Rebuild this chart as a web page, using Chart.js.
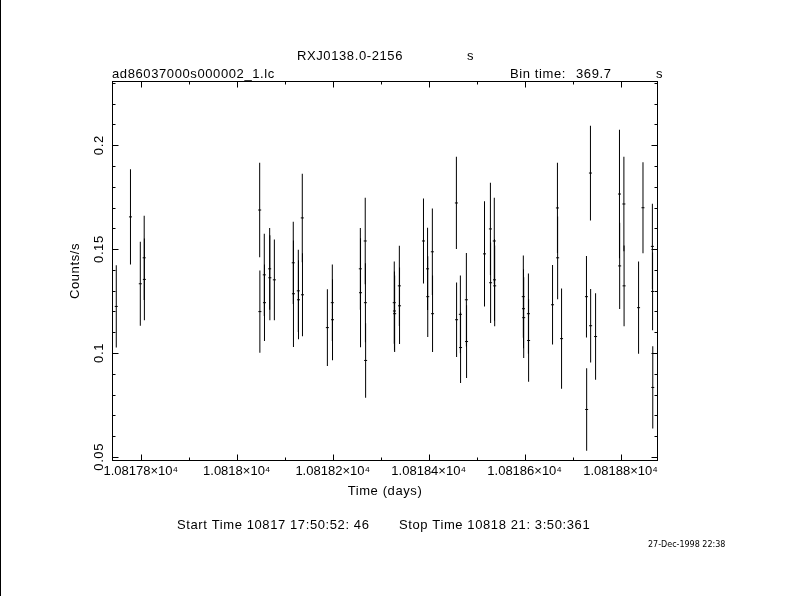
<!DOCTYPE html>
<html>
<head>
<meta charset="utf-8">
<script src="https://cdn.jsdelivr.net/npm/chart.js@4/dist/chart.umd.min.js"></script>
<style>
  html, body { margin: 0; padding: 0; background: #fff; }
  canvas { display: block; }
</style>
</head>
<body>
<canvas id="myChart" width="790" height="596"></canvas>
<script>
// light curve bins (days, counts/s, 1 sigma)
const timeDays = [
  10817.7489, 10817.7785, 10817.7990, 10817.8071, 10817.8075,
  10818.0478, 10818.0482, 10818.0574, 10818.0578, 10818.0686, 10818.0690, 10818.0784,
  10818.1178, 10818.1182, 10818.1283, 10818.1287, 10818.1366, 10818.1370,
  10818.1889, 10818.1992, 10818.1996,
  10818.2576, 10818.2580, 10818.2678, 10818.2682, 10818.2686,
  10818.3283, 10818.3287, 10818.3291, 10818.3389, 10818.3393,
  10818.3892, 10818.3977, 10818.3981, 10818.4077, 10818.4081,
  10818.4578, 10818.4582, 10818.4661, 10818.4665, 10818.4786, 10818.4790,
  10818.5164, 10818.5287, 10818.5291, 10818.5368, 10818.5372, 10818.5376,
  10818.5973, 10818.5977, 10818.5981, 10818.6079, 10818.6083,
  10818.6582, 10818.6684, 10818.6688, 10818.6770,
  10818.7289, 10818.7293, 10818.7372, 10818.7376, 10818.7479,
  10818.7977, 10818.7981, 10818.8069, 10818.8073,
  10818.8375, 10818.8467, 10818.8663, 10818.8667, 10818.8671
];
const rate = [
  0.1224, 0.1655, 0.1333, 0.1458, 0.1354,
  0.1688, 0.1199, 0.1376, 0.1242, 0.1405, 0.1362, 0.1352,
  0.1434, 0.1285, 0.1299, 0.1256, 0.1650, 0.1280,
  0.1122, 0.1242, 0.1160,
  0.1405, 0.1290, 0.1539, 0.1242, 0.0964,
  0.1242, 0.1202, 0.1189, 0.1323, 0.1227,
  0.1539, 0.1405, 0.1271, 0.1487, 0.1189,
  0.1722, 0.1160, 0.1186, 0.1026, 0.1256, 0.1055,
  0.1477, 0.1597, 0.1338, 0.1539, 0.1352, 0.1323,
  0.1271, 0.1213, 0.1170, 0.1189, 0.1060,
  0.1232, 0.1698, 0.1458, 0.1069,
  0.1271, 0.0728, 0.1866, 0.1131, 0.1079,
  0.1765, 0.1419, 0.1717, 0.1323,
  0.1218, 0.1699, 0.1513, 0.1296, 0.0834
];
const rateErr = [
  0.0198, 0.0229, 0.0202, 0.0203, 0.0197,
  0.0227, 0.0198, 0.0198, 0.0184, 0.0197, 0.0205, 0.0194,
  0.0198, 0.0256, 0.0198, 0.0190, 0.0213, 0.0200,
  0.0185, 0.0184, 0.0195,
  0.0197, 0.0262, 0.0208, 0.0190, 0.0179,
  0.0198, 0.0190, 0.0184, 0.0193, 0.0184,
  0.0205, 0.0198, 0.0194, 0.0208, 0.0184,
  0.0222, 0.0179, 0.0187, 0.0170, 0.0225, 0.0175,
  0.0253, 0.0222, 0.0194, 0.0208, 0.0197, 0.0194,
  0.0198, 0.0190, 0.0194, 0.0193, 0.0199,
  0.0191, 0.0217, 0.0199, 0.0241,
  0.0196, 0.0199, 0.0228, 0.0177, 0.0208,
  0.0309, 0.0208, 0.0227, 0.0194,
  0.0222, 0.0219, 0.0205, 0.0187, 0.0198
];

const xTickValues = [10817.8, 10818.0, 10818.2, 10818.4, 10818.6, 10818.8];
const xTickLabels = ["1.08178×10⁴", "1.0818×10⁴", "1.08182×10⁴", "1.08184×10⁴", "1.08186×10⁴", "1.08188×10⁴"];
const yTickValues = [0.05, 0.1, 0.15, 0.2];
const yTickLabels = ["0.05", "0.1", "0.15", "0.2"];
const xRange = [10817.74, 10818.878];
const yRange = [0.048, 0.2309];

const FONT = '13px "Liberation Sans", Arial, sans-serif';

const errBars = timeDays.map((t, i) => ({ x: t, y: [rate[i] - rateErr[i], rate[i] + rateErr[i]] }));
const points = timeDays.map((t, i) => ({ x: t, y: rate[i] }));

function txt(ctx, s, x, y, align) {
  ctx.textAlign = align || "left";
  ctx.fillText(s, x, y);
}

// frame, inward ticks, rotated y labels and the header/footer texts
const qdpLook = {
  id: "qdpLook",
  afterDatasetsDraw(chart) {
    const ctx = chart.ctx;
    const a = chart.chartArea;
    const xs = chart.scales.x, ys = chart.scales.y;
    const L = Math.round(a.left) + 0.5, R = Math.round(a.right) - 0.5;
    const T = Math.round(a.top) + 0.5, B = Math.round(a.bottom) - 0.5;
    ctx.save();
    ctx.strokeStyle = "#000";
    ctx.lineWidth = 1;
    ctx.strokeRect(L, T, R - L, B - T);
    ctx.beginPath();
    for (let k = 108177; k <= 108189; k++) {
      const v = k / 10;
      if (v < xRange[0] || v > xRange[1]) continue;
      const major = xTickValues.some(m => Math.abs(m - v) < 1e-6);
      const len = major ? 6 : 3;
      const px = Math.round(xs.getPixelForValue(v)) + 0.5;
      ctx.moveTo(px, B); ctx.lineTo(px, B - len);
      ctx.moveTo(px, T); ctx.lineTo(px, T + len);
    }
    for (let k = 0; k <= 25; k++) {
      const v = k / 100;
      if (v < yRange[0] || v > yRange[1]) continue;
      const major = yTickValues.some(m => Math.abs(m - v) < 1e-6);
      const len = major ? 6 : 3;
      const py = Math.round(ys.getPixelForValue(v)) + 0.5;
      ctx.moveTo(L, py); ctx.lineTo(L + len, py);
      ctx.moveTo(R, py); ctx.lineTo(R - len, py);
    }
    ctx.stroke();
    ctx.restore();
  },
  afterDraw(chart) {
    const ctx = chart.ctx;
    const a = chart.chartArea;
    const ys = chart.scales.y;
    ctx.save();
    ctx.fillStyle = "#000";
    ctx.fillRect(0, 0, 1, chart.height);
    ctx.font = FONT;
    ctx.letterSpacing = "0.6px";
    ctx.textBaseline = "alphabetic";
    // y tick labels, rotated
    yTickValues.forEach((v, i) => {
      const py = ys.getPixelForValue(v);
      ctx.save();
      ctx.translate(a.left - 9, py);
      ctx.rotate(-Math.PI / 2);
      ctx.textAlign = "center";
      ctx.fillText(yTickLabels[i], 0, 0);
      ctx.restore();
    });
    // axis titles
    ctx.save();
    ctx.translate(79, (a.top + a.bottom) / 2);
    ctx.rotate(-Math.PI / 2);
    txt(ctx, "Counts/s", 0, 0, "center");
    ctx.restore();
    txt(ctx, "Time (days)", (a.left + a.right) / 2, 495, "center");
    // header
    txt(ctx, "RXJ0138.0-2156", 297, 60);
    txt(ctx, "s", 467, 60);
    txt(ctx, "ad86037000s000002_1.lc", 112, 78);
    txt(ctx, "Bin time:", 510, 78);
    txt(ctx, "369.7", 576, 78);
    txt(ctx, "s", 656, 78);
    // footer
    txt(ctx, "Start Time 10817 17:50:52: 46", 177, 529);
    txt(ctx, "Stop Time 10818 21: 3:50:361", 399, 529);
    ctx.letterSpacing = "0px";
    ctx.font = '8px "DejaVu Sans", sans-serif';
    txt(ctx, "27-Dec-1998 22:38", 648, 547);
    ctx.restore();
  }
};

new Chart(document.getElementById("myChart"), {
  type: "bar",
  data: {
    datasets: [
      {
        type: "bar",
        data: errBars,
        backgroundColor: "#000",
        borderWidth: 0,
        barThickness: 1,
        inflateAmount: 0,
        grouped: false,
      },
      {
        type: "scatter",
        data: points,
        pointStyle: "line",
        radius: 1.5,
        hoverRadius: 1.5,
        borderColor: "#000",
        borderWidth: 1,
      },
    ],
  },
  options: {
    responsive: false,
    animation: false,
    devicePixelRatio: 1,
    layout: { padding: { top: 81, right: 132, bottom: 0, left: 0 } },
    plugins: { legend: { display: false }, tooltip: { enabled: false } },
    scales: {
      x: {
        type: "linear",
        min: xRange[0],
        max: xRange[1],
        offset: false,
        grid: { display: false, drawTicks: false, offset: false },
        border: { display: false },
        afterBuildTicks: (s) => { s.ticks = xTickValues.map(v => ({ value: v })); },
        afterFit: (s) => { s.height = 135; },
        ticks: {
          padding: 3,
          maxRotation: 0,
          autoSkip: false,
          color: "#000",
          font: { family: '"Liberation Sans", Arial, sans-serif', size: 13 },
          callback: (v) => {
            const i = xTickValues.findIndex(m => Math.abs(m - v) < 1e-6);
            return i >= 0 ? xTickLabels[i] : "";
          },
        },
      },
      y: {
        type: "linear",
        min: yRange[0],
        max: yRange[1],
        grid: { display: false, drawTicks: false },
        border: { display: false },
        afterBuildTicks: (s) => { s.ticks = yTickValues.map(v => ({ value: v })); },
        afterFit: (s) => { s.width = 112; },
        ticks: { display: false },
      },
    },
  },
  plugins: [qdpLook],
});
</script>
</body>
</html>
